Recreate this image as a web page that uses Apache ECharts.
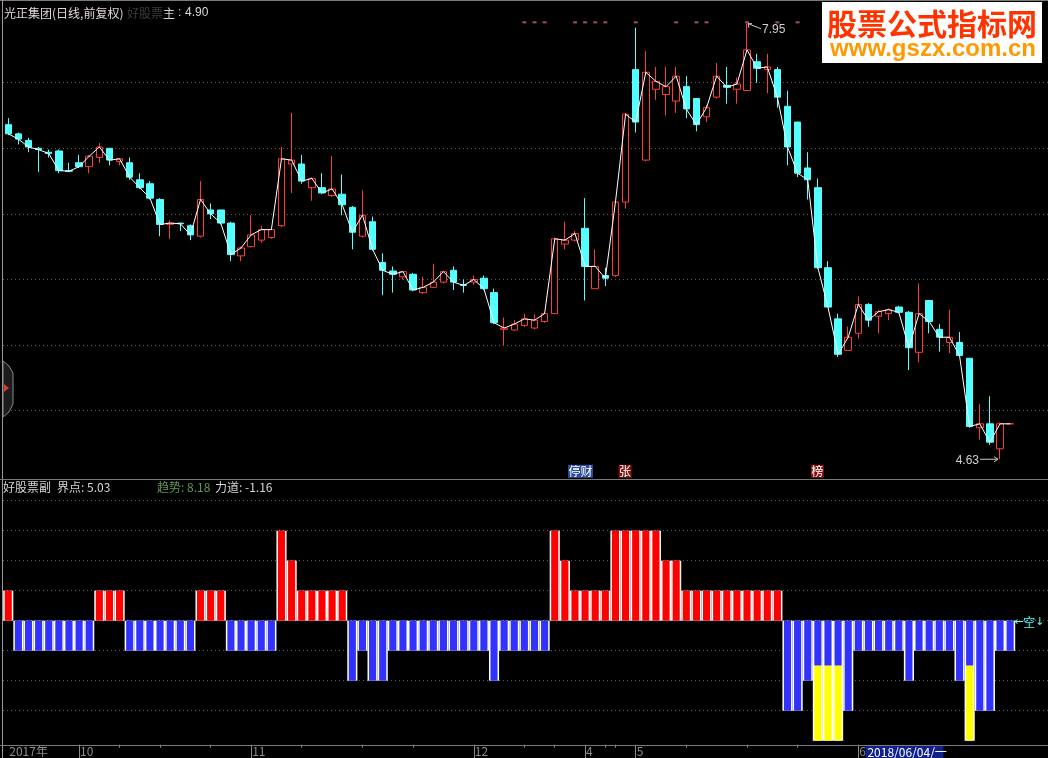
<!DOCTYPE html>
<html><head><meta charset="utf-8">
<script src="https://cdn.jsdelivr.net/npm/echarts@6/dist/echarts.min.js"></script>
<style>html,body{margin:0;padding:0;background:#000;overflow:hidden}#c{width:1048px;height:758px}</style>
</head><body><div id="c"></div>
<script>
// ---------- data ----------
const dates = [
 '2017/09/21','2017/09/22','2017/09/25','2017/09/26','2017/09/27','2017/09/28','2017/09/29',
 '2017/10/09','2017/10/10','2017/10/11','2017/10/12','2017/10/13','2017/10/16','2017/10/17','2017/10/18','2017/10/19','2017/10/20','2017/10/23','2017/10/24','2017/10/25','2017/10/26','2017/10/27','2017/10/30','2017/10/31',
 '2017/11/01','2017/11/02','2017/11/03','2017/11/06','2017/11/07','2017/11/08','2017/11/09','2017/11/10','2017/11/13','2017/11/14','2017/11/15','2017/11/16','2017/11/17','2017/11/20','2017/11/21','2017/11/22','2017/11/23','2017/11/24','2017/11/27','2017/11/28','2017/11/29','2017/11/30',
 '2017/12/01','2017/12/04','2017/12/05','2017/12/06','2017/12/07','2017/12/08','2017/12/11','2017/12/12','2017/12/13','2017/12/14','2017/12/15',
 '2018/04/23','2018/04/24','2018/04/25','2018/04/26','2018/04/27',
 '2018/05/02','2018/05/03','2018/05/04','2018/05/07','2018/05/08','2018/05/09','2018/05/10','2018/05/11','2018/05/14','2018/05/15','2018/05/16','2018/05/17','2018/05/18','2018/05/21','2018/05/22','2018/05/23','2018/05/24','2018/05/25','2018/05/28','2018/05/29','2018/05/30','2018/05/31',
 '2018/06/01','2018/06/04','2018/06/05','2018/06/06','2018/06/07','2018/06/08','2018/06/11','2018/06/12','2018/06/13','2018/06/14','2018/06/15','2018/06/19','2018/06/20','2018/06/21','2018/06/22','2018/06/25'
];
const open = [7.18,7.11,7.06,7.00,6.97,6.98,6.83,6.89,6.86,6.93, 7.00,6.90,6.89,6.76,6.73,6.61,6.42,6.43,6.41,6.33,
 6.53,6.53,6.43,6.18,6.25,6.30,6.32,6.41,6.88,6.88, 6.70,6.70,6.64,6.65,6.55,6.33,6.44,6.13,6.065,6.02,
 6.04,5.90,5.94,5.98,6.07,5.96,5.98,6.01,5.90,5.62, 5.615,5.65,5.63,5.68,5.74,6.27,6.30,6.39,5.93,6.03,
 6.03,6.59,7.60,6.91,7.45,7.41,7.36,7.47,7.38,7.24, 7.39,7.48,7.45,7.44,7.66,7.60,7.60,7.32,7.20,6.85,
 6.70,6.09,5.70,5.46,5.59,5.81,5.72,5.74,5.79,5.75, 5.445,5.84,5.62,5.52,5.52,5.40,4.87,4.90,4.71,4.90];
const close = [7.11,7.07,7.01,6.99,6.96,6.83,6.825,6.86,6.94,7.01, 6.91,6.92,6.78,6.70,6.62,6.42,6.43,6.425,6.34,6.61,
 6.50,6.43,6.19,6.24,6.34,6.38,6.38,6.92,6.91,6.75, 6.77,6.66,6.69,6.57,6.36,6.49,6.23,6.07,6.04,6.06,
 5.92,5.94,5.98,6.06,5.98,5.955,6.00,5.93,5.67,5.63, 5.66,5.70,5.69,5.74,6.31,6.30,6.35,6.10,6.10,6.01,
 6.59,7.26,7.20,7.58,7.51,7.47,7.55,7.30,7.18,7.31, 7.55,7.465,7.49,7.75,7.61,7.62,7.39,7.01,6.81,6.76,
 6.09,5.79,5.43,5.56,5.81,5.69,5.755,5.77,5.75,5.48, 5.74,5.68,5.56,5.56,5.42,4.88,4.90,4.76,4.90,4.90];
const low = [7.10,7.03,6.97,6.82,6.93,6.81,6.82,6.85,6.81,6.89, 6.87,6.87,6.76,6.69,6.61,6.33,6.31,6.37,6.30,6.32,
 6.46,6.42,6.14,6.14,6.245,6.28,6.31,6.40,6.66,6.73, 6.60,6.65,6.63,6.49,6.23,6.32,6.22,5.88,5.90,6.00,
 5.91,5.89,5.94,5.97,5.92,5.90,5.96,5.92,5.66,5.50, 5.61,5.64,5.62,5.67,5.74,6.23,6.29,5.84,5.93,5.95,
 6.02,6.54,7.12,6.90,7.37,7.25,7.27,7.23,7.13,7.20, 7.38,7.34,7.34,7.44,7.50,7.42,7.31,6.87,6.78,6.61,
 6.08,5.79,5.41,5.455,5.55,5.64,5.59,5.69,5.74,5.31, 5.37,5.59,5.45,5.44,5.42,4.87,4.78,4.74,4.63,4.90];
const high = [7.23,7.12,7.08,7.01,6.99,6.99,6.89,6.95,6.95,7.04, 7.00,6.92,6.93,6.81,6.75,6.62,6.45,6.43,6.42,6.75,
 6.58,6.53,6.44,6.25,6.49,6.41,6.39,7.01,7.27,6.95, 6.78,6.81,6.94,6.80,6.56,6.68,6.48,6.20,6.10,6.065,
 6.05,6.02,6.12,6.06,6.10,6.00,6.03,6.03,5.93,5.71, 5.69,5.74,5.735,5.75,6.32,6.44,6.37,6.62,6.23,6.09,
 6.60,7.27,7.92,7.74,7.62,7.62,7.62,7.55,7.38,7.33, 7.65,7.62,7.54,7.95,7.72,7.72,7.62,7.44,7.20,6.97,
 6.77,6.14,5.74,5.64,5.87,5.82,5.77,5.78,5.80,5.76, 5.97,5.84,5.66,5.77,5.60,5.40,5.05,5.11,4.91,4.90];
// sub-indicator bar levels (positive = red, negative = blue)
const barLevel = [1,-1,-1,-1,-1,-1,-1,-1,-1,1,1,1,-1,-1,-1,-1,-1,-1,-1,1,1,1,-1,-1,-1,-1,-1,
 3,2,1,1,1,1,1,-2,-1,-2,-2,-1,-1,-1,-1,-1,-1,-1,-1,-1,-1,-2,-1,-1,-1,-1,-1,
 3,2,1,1,1,1,3,3,3,3,3,2,2,1,1,1,1,1,1,1,1,1,1,
 -3,-3,-2,-4,-4,-4,-3,-1,-1,-1,-1,-1,-2,-1,-1,-1,-1,-2,-4,-3,-3,-1,-1];
// yellow segment starts at this level in these slots
const yellowSlots = [80,81,82,95];
const yellowLevel = -1.5;
const markerIdx = [51,52,53,56,57,58,59,62,66,68,69,73,76,78];
const markerPrice = 7.96;
const eventIdx = [56,61,80];
const eventText = ['停财','张','榜'];
const monthTickIdx = [0,7,24,46,57,62,84];
const monthTickLabels = ['2017年','10','11','12','4','5','6'];
const minorTickIdx = [11,15,20,29,35,40,51,54,59,60,67,73,78];
const cursorIdx = 85;
const mainValue = '4.90', jieDian = '5.03', quShi = '8.18', liDao = '-1.16';

// ---------- chart ----------
const FONT = "'Noto Sans CJK SC','Noto Sans',sans-serif";
const chart = echarts.init(document.getElementById('c'), null, {renderer:'canvas'});
const grid = '#5a5a5a', T = 'rgba(0,0,0,0)';
const candles = open.map(function(o,i){ return [o, close[i], low[i], high[i]]; });
const barData = barLevel.map(function(v,i){ return [i, v, yellowSlots.indexOf(i) >= 0 ? yellowLevel : 0]; });
const hidden = {axisLine:{show:false}, axisTick:{show:false}, axisLabel:{show:false}};

const option = {
  backgroundColor:'#000',
  animation:false,
  grid:[
    {left:3.2, width:1012, top:17.1, height:459.2},
    {left:3.2, width:1012, top:500.7, height:240},
    {left:3, right:0, top:17.1, height:459.2},
    {left:3, right:0, top:500.7, height:240}
  ],
  xAxis:[
    Object.assign({type:'category', gridIndex:0, data:dates, boundaryGap:true, splitLine:{show:false}}, hidden),
    {type:'category', gridIndex:1, data:dates, boundaryGap:true, position:'bottom', offset:4,
     axisLine:{show:false, onZero:false},
     axisTick:{show:true, alignWithLabel:true, length:14,
       interval:function(i){ return i>0 && monthTickIdx.indexOf(i)>=0; },
       lineStyle:{color:'#8a8a8a', width:1}},
     axisLabel:{show:true, interval:function(i){ return monthTickIdx.indexOf(i)>=0; },
       formatter:function(v,i){ return monthTickLabels[monthTickIdx.indexOf(i)]; },
       color:'#8c8c8c', fontSize:12, fontFamily:FONT, align:'left', verticalAlign:'top',
       margin:1, padding:[0,0,0,1]},
     splitLine:{show:false}},
    {type:'category', gridIndex:1, data:dates, boundaryGap:true, position:'bottom', offset:4,
     axisLine:{show:false, onZero:false},
     axisTick:{show:true, alignWithLabel:true, length:3,
       interval:function(i){ return minorTickIdx.indexOf(i)>=0; },
       lineStyle:{color:'#8a8a8a', width:1}},
     axisLabel:{show:false}, splitLine:{show:false}},
    Object.assign({type:'value', gridIndex:2, min:0, max:1, splitLine:{show:false}}, hidden),
    Object.assign({type:'value', gridIndex:3, min:0, max:1, splitLine:{show:false}}, hidden)
  ],
  yAxis:[
    Object.assign({type:'value', gridIndex:0, min:4.5, max:8, interval:0.5, splitLine:{show:false}}, hidden),
    Object.assign({type:'value', gridIndex:1, min:-4, max:4, interval:1, splitLine:{show:false}}, hidden),
    Object.assign({type:'value', gridIndex:2, min:4.5, max:8, interval:0.5,
     splitLine:{show:true, lineStyle:{type:[1,3], width:1, color:[T,grid,grid,grid,grid,grid,grid,T]}}}, hidden),
    Object.assign({type:'value', gridIndex:3, min:-4, max:4, interval:1,
     splitLine:{show:true, lineStyle:{type:[1,3], width:1, color:[T,grid,grid,grid,grid,grid,grid,grid,grid]}}}, hidden)
  ],
  series:[
    {type:'candlestick', xAxisIndex:0, yAxisIndex:0, data:candles, barWidth:7,
     itemStyle:{color:'#000', color0:'#54ffff', borderColor:'#ff3c3c', borderColor0:'#54ffff', borderWidth:1}},
    {type:'line', xAxisIndex:0, yAxisIndex:0, data:close, symbol:'none', smooth:false,
     lineStyle:{color:'#ffffff', width:1}, z:5},
    {type:'scatter', xAxisIndex:0, yAxisIndex:0, symbol:'rect', symbolSize:[4,2],
     data:markerIdx.map(function(i){ return [i, markerPrice]; }), itemStyle:{color:'#d0607a'}},
    {type:'custom', xAxisIndex:1, yAxisIndex:1, data:barData, encode:{x:0, y:1},
     renderItem:function(params, api){
       const i = api.value(0), lv = api.value(1), yf = api.value(2);
       const w = api.size([1,0])[0];
       const p0 = api.coord([i,0]), p1 = api.coord([i,lv]);
       const x0 = p0[0]-w/2, top = Math.min(p0[1],p1[1]), h = Math.abs(p1[1]-p0[1]);
       const ch = [{type:'rect', shape:{x:x0, y:top, width:w, height:h}, style:{fill:'#ffffff'}}];
       if (yf < 0) {
         const pf = api.coord([i,yf]);
         ch.push({type:'rect', shape:{x:x0+1.5, y:p0[1], width:w-3, height:pf[1]-p0[1]}, style:{fill:'#3232ff'}});
         ch.push({type:'rect', shape:{x:x0+1.5, y:pf[1], width:w-3, height:p1[1]-pf[1]}, style:{fill:'#ffff00'}});
       } else {
         ch.push({type:'rect', shape:{x:x0+1.5, y:top, width:w-3, height:h}, style:{fill: lv>0 ? '#ff0000' : '#3232ff'}});
       }
       return {type:'group', children:ch};
     }}
  ]
};
chart.setOption(option);

// ---------- annotations positioned through the chart's scales ----------
const P0 = function(v){ return chart.convertToPixel({gridIndex:0}, v); };
const P1 = function(v){ return chart.convertToPixel({gridIndex:1}, v); };
const hiVal = Math.max.apply(null, high), hiIdx = high.indexOf(hiVal);
const loVal = Math.min.apply(null, low), loIdx = low.indexOf(loVal);
const hp = P0([hiIdx, hiVal]), lp = P0([loIdx, loVal]);
const g = [];
const txt = function(x,y,s,color,extra){ const o = {type:'text', x:x, y:y, silent:true, z:100,
  style:Object.assign({text:s, fill:color, font:'12px '+FONT, textVerticalAlign:'middle'}, extra||{})}; g.push(o); };
const ln = function(x1,y1,x2,y2,color,z){ g.push({type:'line', silent:true, z:z||100, shape:{x1:x1,y1:y1,x2:x2,y2:y2}, style:{stroke:color, lineWidth:1}}); };
// frame lines
ln(0,0.5,1048,0.5,'#7a7a7a');
ln(2.5,0,2.5,758,'#9a9a9a');
ln(0,479.5,1048,479.5,'#7a7a7a');
const axY = P1([0,-4])[1] + 4;
ln(0,Math.round(axY)+0.5,1048,Math.round(axY)+0.5,'#7a7a7a');
// high annotation
ln(hp[0]+1, hp[1], hp[0]+14, hp[1]+5, '#c8c8c8');
ln(hp[0]+1, hp[1], hp[0]+5, hp[1], '#c8c8c8');
ln(hp[0]+1, hp[1], hp[0]+2, hp[1]+4, '#c8c8c8');
txt(hp[0]+15, hp[1]+6.5, hiVal.toFixed(2), '#d0d0d0', {font:'12px Liberation Sans'});
// low annotation
ln(lp[0]-20, lp[1], lp[0]-2, lp[1], '#c8c8c8');
ln(lp[0]-6, lp[1]-2.5, lp[0]-2, lp[1], '#c8c8c8');
ln(lp[0]-6, lp[1]+2.5, lp[0]-2, lp[1], '#c8c8c8');
txt(lp[0]-21, lp[1]+1, loVal.toFixed(2), '#d0d0d0', {font:'12px Liberation Sans', textAlign:'right'});
// event markers at bottom of price panel
const panelBottom = P0([0,4.5])[1];
eventIdx.forEach(function(i,k){
  const cx = P0([i,0])[0];
  const wdt = eventText[k].length*12 + 1;
  g.push({type:'rect', silent:true, z:99, shape:{x:cx-7, y:panelBottom-11.5, width:wdt, height:13},
    style:{fill: k===0 ? '#2c4c9c' : '#7e1414'}});
  txt(cx-6.5, panelBottom-5, eventText[k], '#ffffff');
});
// cursor date box
const cx85 = P1([cursorIdx,0])[0];
const wd = ['日','一','二','三','四','五','六'][new Date(dates[cursorIdx].replace(/\//g,'-')).getDay()];
g.push({type:'rect', silent:true, z:99, shape:{x:cx85-3, y:axY+1, width:78, height:14}, style:{fill:'#10208c'}});
txt(cx85-1, axY+8, dates[cursorIdx]+'/'+wd, '#ffffff');
// sub indicator tag at last bar
const lastP = P1([barLevel.length-1, 0]);
txt(lastP[0]+4, lastP[1]+1.5, '←', '#54ffff', {font:"11px 'DejaVu Sans'", z:120});
g[g.length-1].z = 120;
txt(lastP[0]+13, lastP[1]+1.5, '空', '#54ffff', {font:"12px 'Noto Sans CJK SC'"});
txt(lastP[0]+25, lastP[1]+1.5, '↓', '#54ffff', {font:"11px 'DejaVu Sans'"});
// headers
txt(4, 13, '光正集团(日线,前复权)', '#e2d4d4');
txt(127, 13, '好股票', '#3c3c3c');
txt(163, 13, '主', '#d0d0d0');
txt(178, 13, ':', '#d8d8d8', {font:'12px Liberation Sans'});
txt(185, 13, mainValue, '#d8d8d8', {font:'12px Liberation Sans'});
txt(3, 487.5, '好股票副', '#d4d4d4');
txt(57, 487.5, '界点: ' + jieDian, '#d4d4d4');
txt(157, 487.5, '趋势: ' + quShi, '#5e9a52');
txt(215, 487.5, '力道: ' + liDao, '#d4d4d4');
// left side tab
g.push({type:'polygon', silent:true, z:98, shape:{points:[[3,361],[9,366],[13,373],[13,404],[9,412],[3,417]]}, style:{fill:'#1c1c1c', stroke:'#8a8a8a', lineWidth:1}});
g.push({type:'polygon', silent:true, z:99, shape:{points:[[4,384],[9,388],[4,392]]}, style:{fill:'#e03a2a'}});
// watermark
g.push({type:'rect', silent:true, z:110, shape:{x:822, y:2, width:220, height:61}, style:{fill:'#ffffff'}});
g.push({type:'text', silent:true, z:111, x:932, y:24, style:{text:'股票公式指标网', fill:'#ff3300', font:"bold 30px 'Noto Sans CJK SC'", textAlign:'center', textVerticalAlign:'middle'}});
g.push({type:'text', silent:true, z:111, x:933, y:49, style:{text:'www.gszx.com.cn', fill:'#ff9900', font:"bold 24px 'Liberation Sans'", textAlign:'center', textVerticalAlign:'middle'}});
chart.setOption({graphic:g});
</script></body></html>
